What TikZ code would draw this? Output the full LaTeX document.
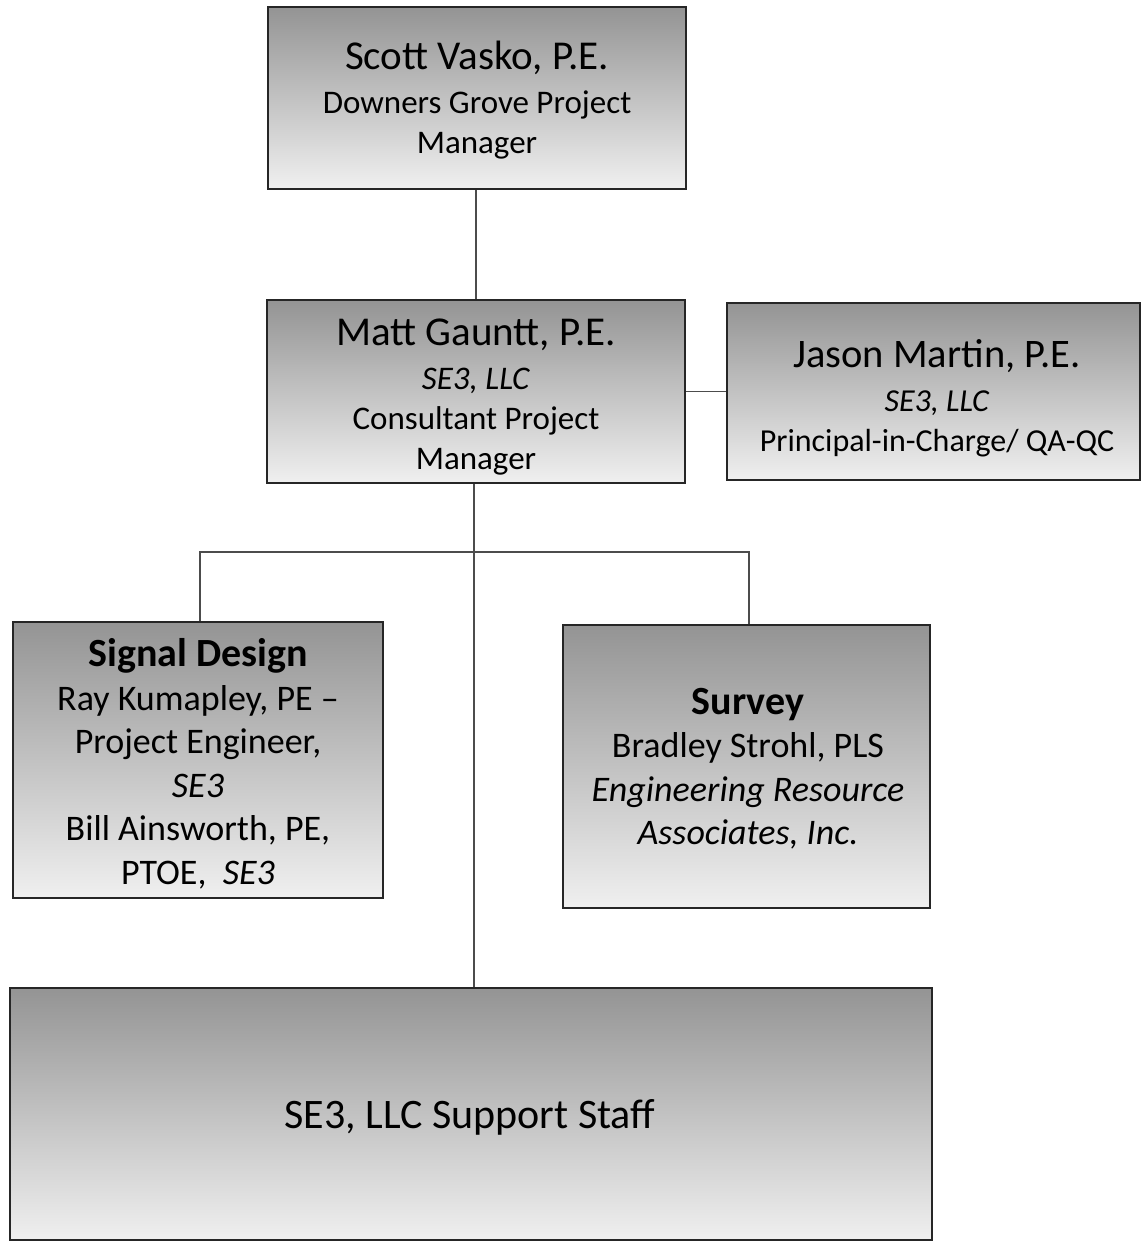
\documentclass[tikz,border=0pt]{standalone}
\usepackage{fontspec}
\setmainfont{Carlito}
\begin{document}
\begin{tikzpicture}[x=1pt,y=-1pt,
  box/.style={draw=black!85, line width=2.5pt, top color=black!42, bottom color=black!6,
    inner sep=0pt},
  txt/.style={align=center, inner sep=0pt, font=\fontsize{33}{40}\selectfont},
  ltxt/.style={txt, font=\fontsize{36}{43.5}\selectfont},
  conn/.style={draw=black!70, line width=1.6pt}
]
\useasboundingbox (0,0) rectangle (1148,1243);
\fill[white] (0,0) rectangle (1148,1243);

\node[box, minimum width=418pt, minimum height=182pt] (svasko) at (477,98) {};
\node[txt] (svasko-t) at (477,100)
  {{\fontsize{41}{40}\selectfont Scott Vasko, P.E.}\\[4pt]Downers Grove Project\\Manager};

\node[box, minimum width=418pt, minimum height=183pt] (mgauntt) at (476,391.5) {};
\node[txt] (mgauntt-t) at (476,397)
  {{\fontsize{41}{40}\selectfont Matt Gauntt, P.E.}\\[4pt]\textit{SE3, LLC}\\Consultant Project\\Manager};

\node[box, minimum width=413pt, minimum height=177pt] (jmartin) at (933.5,391.5) {};
\node[txt, font=\fontsize{32}{40}\selectfont] (jmartin-t) at (937,398.5)
  {{\fontsize{40.5}{40}\selectfont Jason Martin, P.E.}\\[4pt]\textit{SE3, LLC}\\Principal-in-Charge/ QA-QC};

\node[box, minimum width=370pt, minimum height=276pt] (signal) at (198,760) {};
\node[ltxt] (signal-t) at (198,764)
  {{\fontsize{40}{43.5}\selectfont\textbf{Signal Design}}\\Ray Kumapley, PE --\\Project Engineer,\\\textit{SE3}\\Bill Ainsworth, PE,\\PTOE,\ \ \textit{SE3}};

\node[box, minimum width=367pt, minimum height=283pt] (survey) at (746.5,766.5) {};
\node[ltxt] (survey-t) at (748,768.5)
  {{\fontsize{40}{43.5}\selectfont\textbf{Survey}}\\Bradley Strohl, PLS\\\textit{Engineering Resource}\\\textit{Associates, Inc.}};

\node[box, minimum width=922pt, minimum height=252pt] (staff) at (471,1114) {};
\node[txt, font=\fontsize{42}{46}\selectfont] (staff-t) at (470,1117) {SE3, LLC Support Staff};

\draw[conn] (svasko.south -| 476,0) -- (mgauntt.north -| 476,0);
\draw[conn] (mgauntt.east) -- (jmartin.west);
\draw[conn] (mgauntt.south -| 474,0) -- (staff.north -| 474,0);
\draw[conn] (signal.north -| 200,0) -- (200,552) -- (749,552) -- (survey.north -| 749,0);
\end{tikzpicture}
\end{document}
